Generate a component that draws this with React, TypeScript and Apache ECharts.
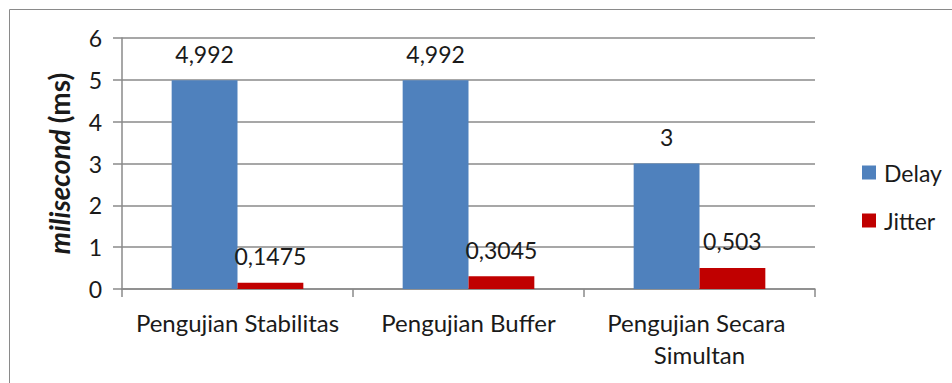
import React, { useEffect, useRef } from "react";
import * as echarts from "echarts";

const categories = ["Pengujian Stabilitas", "Pengujian Buffer", "Pengujian Secara Simultan"];
const delayValues = [4.992, 4.992, 3];
const jitterValues = [0.1475, 0.3045, 0.503];
const seriesNames = ["Delay", "Jitter"];
const yTicks = { min: 0, max: 6, interval: 1 };

const FONT = "Lato, 'Liberation Sans', sans-serif";
const TEXT = "#1a1a1a";

export default function App() {
  const ref = useRef<HTMLDivElement>(null);
  useEffect(() => {
    if (!ref.current) return;
    const chart = echarts.init(ref.current, null, { renderer: "svg" });
    const label = {
      show: true,
      position: "top" as const,
      distance: 15,
      fontSize: 23,
      fontFamily: FONT,
      color: TEXT,
      formatter: (p: any) => String(p.value).replace(".", ","),
    };
    chart.setOption({
      animation: false,
      backgroundColor: "#ffffff",
      textStyle: { fontFamily: FONT },
      graphic: [
        {
          type: "rect",
          shape: { x: 9.5, y: 9.5, width: 1000, height: 1000 },
          style: { fill: "none", stroke: "#8a8a8a", lineWidth: 1 },
          silent: true,
        },
      ],
      grid: { left: 122, right: 137, top: 38, bottom: 94 },
      legend: {
        orient: "vertical",
        left: 857,
        top: 156,
        itemWidth: 14,
        itemHeight: 14,
        itemGap: 25,
        icon: "rect",
        data: seriesNames,
        textStyle: { fontSize: 23, fontFamily: FONT, color: TEXT, lineHeight: 23, padding: [0, 0, 0, 3] },
      },
      xAxis: {
        type: "category",
        data: categories,
        axisLine: { lineStyle: { color: "#8a8a8a", width: 1.5 } },
        axisTick: { show: true, alignWithLabel: false, length: 8, lineStyle: { color: "#8a8a8a", width: 1.5 } },
        axisLabel: {
          fontSize: 24,
          fontFamily: FONT,
          color: TEXT,
          margin: 17,
          lineHeight: 32,
          width: 225,
          overflow: "break",
          interval: 0,
        },
      },
      yAxis: {
        type: "value",
        min: yTicks.min,
        max: yTicks.max,
        interval: yTicks.interval,
        name: "{i|milisecond}  {b|(ms)}",
        nameLocation: "middle",
        nameGap: 49,
        nameTextStyle: {
          rich: {
            i: { fontSize: 28, fontWeight: "bold", fontStyle: "italic", fontFamily: FONT, color: TEXT },
            b: { fontSize: 28, fontWeight: "bold", fontFamily: FONT, color: TEXT },
          },
        },
        axisLine: { show: true, lineStyle: { color: "#8a8a8a", width: 1.5 } },
        axisTick: { show: true, length: 9, lineStyle: { color: "#8a8a8a", width: 1.5 } },
        splitLine: { lineStyle: { color: "#8a8a8a", width: 1.5 } },
        axisLabel: { fontSize: 23, fontFamily: FONT, color: TEXT, margin: 20 },
      },
      series: [
        {
          name: seriesNames[0],
          type: "bar",
          data: delayValues,
          itemStyle: { color: "#4F81BD" },
          barGap: "0%",
          barCategoryGap: "43%",
          label,
        },
        {
          name: seriesNames[1],
          type: "bar",
          data: jitterValues,
          itemStyle: { color: "#C00000" },
          label,
        },
      ],
    });
    return () => chart.dispose();
  }, []);
  return (
    <div
      ref={ref}
      style={{ position: "absolute", left: 0, top: 0, width: 952, height: 383, background: "#fff" }}
    />
  );
}
